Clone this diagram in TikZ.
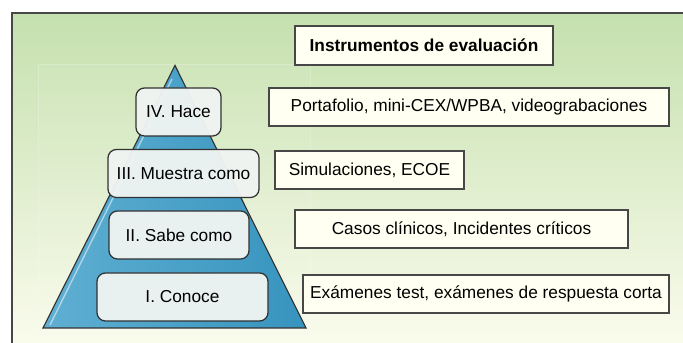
\documentclass[tikz,border=0pt]{standalone}
\usepackage{fontspec}
\setmainfont{Liberation Sans}
\usepackage{tikz}
\usetikzlibrary{calc,shapes}
\definecolor{fondoverde}{RGB}{197,224,174}
\definecolor{fondocrema}{RGB}{253,253,240}
\definecolor{azulpir}{RGB}{55,148,190}
\definecolor{azulclaro}{RGB}{95,175,210}
\definecolor{borde}{RGB}{50,50,50}
\definecolor{cajacrema}{RGB}{255,255,242}
\definecolor{cajagris}{RGB}{240,244,242}
\newcommand{\letra}{\fontsize{12.3}{14}\selectfont}
\tikzset{
	nivel/.style={draw=borde,line width=0.9pt,rounded corners=6pt,fill=cajagris,fill opacity=0.96,text opacity=1,inner sep=0pt,minimum height=1.2cm},
	instr/.style={draw=borde!90,line width=0.8pt,fill=cajacrema,inner sep=0pt,minimum height=0.95cm},
}

\begin{document}
\begin{tikzpicture}[font=\letra]
			\useasboundingbox (0,0) rectangle (17.075,8.575);
			\fill [white] (0,0) rectangle (17.075,8.575);
			\draw [line width=1.4pt,draw=borde!90,top color=fondoverde,bottom color=fondocrema] (0.3,-0.5) rectangle (17.5,8.25);
			\draw [white,opacity=0.2,fill=white,fill opacity=0.05] (0.95,0.2) rectangle (7.75,6.975);
			\coordinate (izq) at (1.075,0.375);
			\coordinate (der) at (7.65,0.375);
			\coordinate (cima) at (4.375,6.9375);
			\draw [line width=0.8pt,draw=borde,left color=azulclaro,right color=azulpir] (izq) -- (cima) -- (der) -- cycle;
			\draw [white,opacity=0.5,line width=1pt] (1.25,0.45) -- (4.3,6.6);
			\node [nivel,minimum width=2.125cm] (hace) at (4.4625,5.775) {IV. Hace};
			\node [nivel,minimum width=3.775cm] (muestra) at (4.5875,4.2375) {III. Muestra como};
			\node [nivel,minimum width=3.5cm] (sabe) at (4.475,2.7) {II. Sabe como};
			\node [nivel,minimum width=4.275cm] (conoce) at (4.5625,1.15) {I. Conoce};
			\node [instr,minimum width=6.45cm,minimum height=0.975cm,font=\letra\bfseries] (titulo) at (10.6,7.4375) {Instrumentos de evaluación};
			\node [instr,minimum width=10cm] (portafolio) at (11.725,5.9) {Portafolio, mini-CEX/WPBA, videograbaciones};
			\node [instr,minimum width=4.725cm] (simul) at (9.2375,4.325) {Simulaciones, ECOE};
			\node [instr,minimum width=8.325cm] (casos) at (11.5375,2.85) {Casos clínicos, Incidentes críticos};
			\node [instr,minimum width=9.15cm] (examenes) at (12.15,1.225) {Exámenes test, exámenes de respuesta corta};
			\end{tikzpicture}
\end{document}
